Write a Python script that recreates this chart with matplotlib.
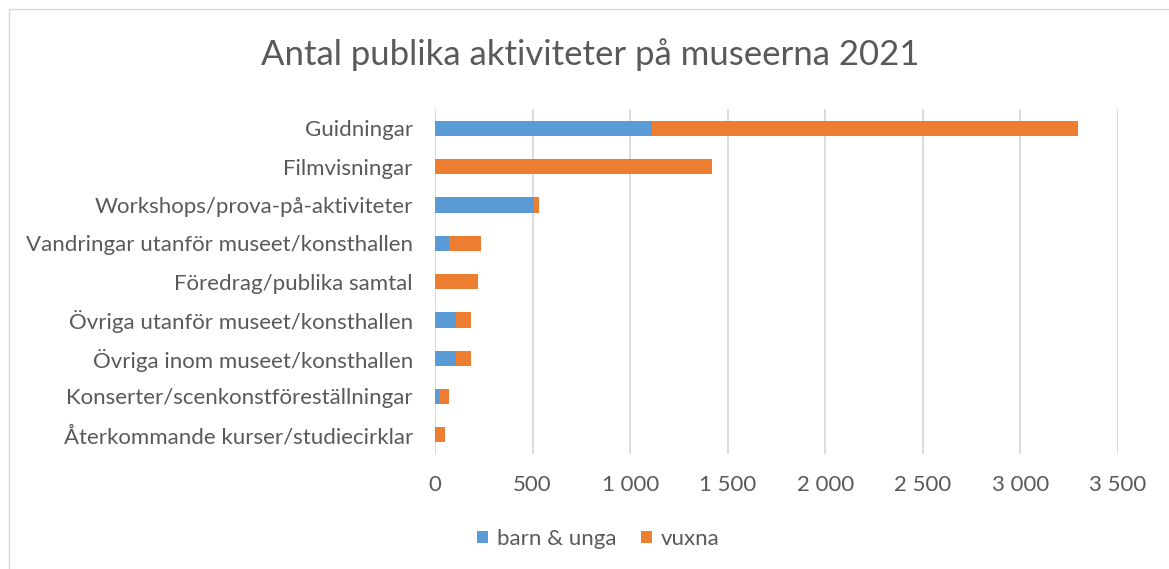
import matplotlib.pyplot as plt
from matplotlib.patches import Rectangle
from matplotlib.ticker import FuncFormatter

# Kategorier (uppifrån och ned)
categories = [
    "Guidningar",
    "Filmvisningar",
    "Workshops/prova-på-aktiviteter",
    "Vandringar utanför museet/konsthallen",
    "Föredrag/publika samtal",
    "Övriga utanför museet/konsthallen",
    "Övriga inom museet/konsthallen",
    "Konserter/scenkonstföreställningar",
    "Återkommande kurser/studiecirklar",
]
barn_unga = [1110, 0, 505, 73, 0, 110, 110, 21, 7]
vuxna = [2185, 1422, 27, 161, 222, 76, 73, 52, 44]
x_ticks = [0, 500, 1000, 1500, 2000, 2500, 3000, 3500]

BLUE = "#5B9BD5"
ORANGE = "#ED7D31"
GRAY = "#595959"
GRID = "#D9D9D9"

plt.rcParams["font.family"] = ["Lato", "DejaVu Sans"]

fig = plt.figure(figsize=(11.69, 5.69), dpi=100)
ax = fig.add_axes([435 / 1169, 1 - 454 / 569, (1118 - 435) / 1169, (454 - 109) / 569])

# ram runt diagrammet
fig.patches.append(Rectangle((9 / 1169, -0.01), 1.02, 1 - 9 / 569 + 0.01,
                             transform=fig.transFigure, fill=False,
                             edgecolor=GRID, linewidth=1))

y = list(range(len(categories)))
ax.barh(y, barn_unga, height=0.4, color=BLUE, label="barn & unga", zorder=3)
ax.barh(y, vuxna, height=0.4, left=barn_unga, color=ORANGE, label="vuxna", zorder=3)

ax.set_ylim(len(categories) - 0.5, -0.5)
ax.set_xlim(0, 3500)
ax.set_xticks(x_ticks)
ax.xaxis.set_major_formatter(FuncFormatter(lambda v, p: f"{int(v):,}".replace(",", " ")))
ax.set_yticks(y)
ax.set_yticklabels(categories)

ax.grid(axis="x", color=GRID, linewidth=1.3, zorder=0)
for s in ax.spines.values():
    s.set_visible(False)
ax.tick_params(axis="both", length=0, colors=GRAY, labelsize=16)
ax.tick_params(axis="x", pad=15)
ax.tick_params(axis="y", pad=16)

fig.text(0.505, 1 - 55 / 569, "Antal publika aktiviteter på museerna 2021",
         ha="center", va="center", fontsize=25, color=GRAY)

fig.legend(loc="center", bbox_to_anchor=(598 / 1169, 1 - 539 / 569), ncol=2,
           frameon=False, fontsize=16, labelcolor=GRAY, handlelength=0.5,
           handleheight=0.5, handletextpad=0.4, columnspacing=1.1)

fig.savefig("out.png", dpi=100)
